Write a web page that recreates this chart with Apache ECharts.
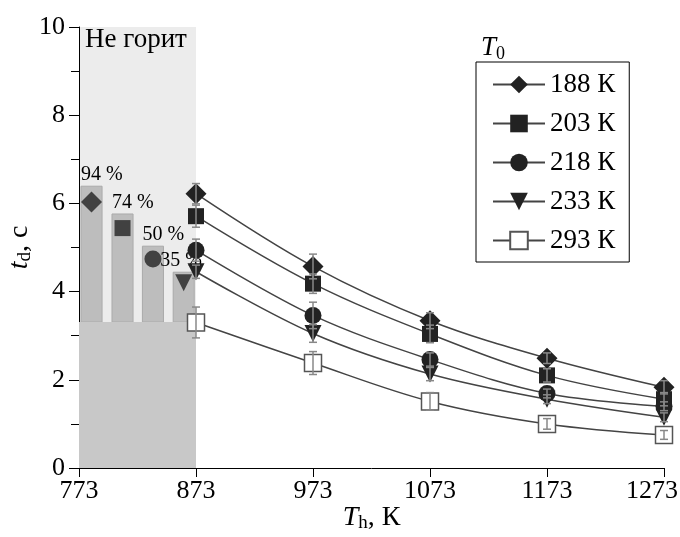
<!DOCTYPE html>
<html>
<head>
<meta charset="utf-8">
<script src="https://cdn.jsdelivr.net/npm/echarts@6/dist/echarts.min.js"></script>
<style>
  html, body { margin: 0; padding: 0; background: #fff; }
  #chart { width: 680px; height: 537px; }
</style>
</head>
<body>
<div id="chart"></div>
<script>
// heating temperatures, K
var tempsH = [873, 973, 1073, 1173, 1273];
var xTicks = [773, 873, 973, 1073, 1173, 1273];
// ignition delay t_d, s, for each initial temperature T0
var t188 = [6.22, 4.57, 3.34, 2.49, 1.83];
var t203 = [5.71, 4.18, 3.04, 2.10, 1.56];
var t218 = [4.94, 3.46, 2.46, 1.69, 1.40];
var t233 = [4.45, 3.05, 2.13, 1.56, 1.15];
var t293 = [3.30, 2.38, 1.51, 1.00, 0.75];
// error bar half-widths
var e188 = [0.23, 0.28, 0.18, 0.12, 0.15];
var e203 = [0.25, 0.22, 0.20, 0.15, 0.15];
var e218 = [0.25, 0.30, 0.15, 0.10, 0.10];
var e233 = [0.15, 0.20, 0.15, 0.10, 0.10];
var e293 = [0.35, 0.26, 0.20, 0.12, 0.10];
// "no ignition" zone: probability bars
var noFireZone = [773, 873];
var fireX = [783.7, 810.2, 836.2, 862.5];
var fireTop = [6.39, 5.76, 5.03, 4.44];
var firePct = ['94 %', '74 %', '50 %', '35 %'];
var fireMarkY = [6.03, 5.44, 4.74, 4.20];
var bandTop = 3.31;

var X0 = 773;
var FONT = 'Liberation Serif';
var names = ['188 К', '203 К', '218 К', '233 К', '293 К'];
var values = [t188, t203, t218, t233, t293];
var errs = [e188, e203, e218, e233, e293];
var symbols = ['diamond', 'rect', 'circle', 'triangle', 'rect'];
var sizes = [21, 16, 17, 17, 17];
var rotates = [0, 0, 0, 180, 0];
var barW = 18;
var labelDx = [0, 0, 0, -13];

function sx(v) { return v - X0; }

var myChart = echarts.init(document.getElementById('chart'));

var series = [];

// light zone + caption
series.push({
  type: 'custom', silent: true, z: 0,
  data: [[sx(noFireZone[0]), sx(noFireZone[1])]],
  renderItem: function (params, api) {
    var p0 = api.coord([api.value(0), 10]);
    var p1 = api.coord([api.value(1), 0]);
    return {
      type: 'group',
      children: [
        { type: 'rect', shape: { x: p0[0], y: p0[1], width: p1[0] - p0[0], height: p1[1] - p0[1] }, style: { fill: '#ececec' } },
        { type: 'text', x: p0[0] + 6, y: p0[1] - 1, style: { text: 'Не горит', fontFamily: FONT, fontSize: 27, fill: '#000' } }
      ]
    };
  }
});

// grey bars with percentages
series.push({
  type: 'custom', silent: true, z: 1,
  data: fireX.map(function (x, i) { return [sx(x), fireTop[i], i]; }),
  renderItem: function (params, api) {
    var i = api.value(2);
    var a = api.coord([api.value(0) - barW / 2, api.value(1)]);
    var b = api.coord([api.value(0) + barW / 2, bandTop]);
    return {
      type: 'group',
      children: [
        { type: 'rect', shape: { x: a[0], y: a[1], width: b[0] - a[0], height: b[1] - a[1] }, style: { fill: '#bdbdbd', stroke: '#aaaaaa', lineWidth: 1 } },
        { type: 'text', x: a[0] + labelDx[i], y: a[1] - 1, style: { text: firePct[i], fontFamily: FONT, fontSize: 20, fill: '#000', verticalAlign: 'bottom' } }
      ]
    };
  }
});

// darker band at the bottom of the zone
series.push({
  type: 'custom', silent: true, z: 2,
  data: [[sx(noFireZone[0]), sx(noFireZone[1])]],
  renderItem: function (params, api) {
    var p0 = api.coord([api.value(0), bandTop]);
    var p1 = api.coord([api.value(1), 0]);
    return { type: 'rect', shape: { x: p0[0], y: p0[1], width: p1[0] - p0[0], height: p1[1] - p0[1] }, style: { fill: '#c8c8c8' } };
  }
});

// error bars
var errData = [];
values.forEach(function (arr, k) {
  arr.forEach(function (v, j) { errData.push([sx(tempsH[j]), v, errs[k][j]]); });
});
series.push({
  type: 'custom', silent: true, z: 4,
  data: errData,
  renderItem: function (params, api) {
    var top = api.coord([api.value(0), api.value(1) + api.value(2)]);
    var bot = api.coord([api.value(0), api.value(1) - api.value(2)]);
    var st = { stroke: '#888', lineWidth: 1.5 };
    return {
      type: 'group',
      children: [
        { type: 'line', shape: { x1: top[0], y1: top[1], x2: bot[0], y2: bot[1] }, style: st },
        { type: 'line', shape: { x1: top[0] - 4, y1: top[1], x2: top[0] + 4, y2: top[1] }, style: st },
        { type: 'line', shape: { x1: bot[0] - 4, y1: bot[1], x2: bot[0] + 4, y2: bot[1] }, style: st }
      ]
    };
  }
});

names.forEach(function (name, k) {
  var open = k === 4;
  var itemStyle = open
    ? { color: '#fff', borderColor: '#555', borderWidth: 1.5 }
    : { color: '#222' };
  series.push({
    name: name,
    type: 'line',
    z: 3,
    smooth: 0.35,
    symbol: symbols[k],
    symbolSize: sizes[k],
    symbolRotate: rotates[k],
    showAllSymbol: true,
    lineStyle: { color: '#444', width: 1.5 },
    itemStyle: itemStyle,
    data: tempsH.map(function (t, j) { return [sx(t), values[k][j]]; })
  });
  if (k < 4) {
    series.push({
      type: 'scatter',
      z: 3,
      symbol: symbols[k],
      symbolSize: sizes[k],
      symbolRotate: rotates[k],
      itemStyle: itemStyle,
      data: [[sx(fireX[k]), fireMarkY[k]]]
    });
  }
});

var option = {
  animation: false,
  title: {
    text: '{i|T}{s|0}',
    left: 476, top: 28,
    textStyle: {
      fontWeight: 'normal',
      rich: {
        i: { fontFamily: FONT, fontStyle: 'italic', fontWeight: 'normal', fontSize: 27, color: '#000' },
        s: { fontFamily: FONT, fontWeight: 'normal', fontSize: 18, color: '#000', padding: [12, 0, 0, 0] }
      }
    }
  },
  legend: {
    data: names,
    orient: 'vertical',
    left: 476, top: 62,
    padding: [9, 14, 8, 16],
    itemWidth: 52, itemHeight: 22, itemGap: 12,
    borderColor: '#000', borderWidth: 1,
    textStyle: { fontFamily: FONT, fontSize: 27, color: '#000' }
  },
  grid: { left: 79, right: 16, top: 27, bottom: 69, outerBoundsMode: 'none', containLabel: false },
  xAxis: {
    type: 'value',
    min: 0, max: sx(xTicks[xTicks.length - 1]), interval: 100,
    name: '{i|T}{s|h}{n|, К}',
    nameLocation: 'middle', nameGap: 34, nameMoveOverlap: false,
    nameTextStyle: {
      rich: {
        i: { fontFamily: FONT, fontStyle: 'italic', fontSize: 28, color: '#000' },
        s: { fontFamily: FONT, fontSize: 19, color: '#000', padding: [12, 0, 0, 0] },
        n: { fontFamily: FONT, fontSize: 28, color: '#000' }
      }
    },
    axisLine: { lineStyle: { color: '#000', width: 1 } },
    axisTick: { inside: false, length: 9, lineStyle: { color: '#000' } },
    axisLabel: {
      margin: 10,
      fontFamily: FONT, fontSize: 26, color: '#000',
      formatter: function (v) {
        var t = v + X0;
        return t === xTicks[xTicks.length - 1] ? '{r|' + t + '}' : String(t);
      },
      rich: { r: { fontFamily: FONT, fontSize: 26, color: '#000', padding: [0, 24, 0, 0] } }
    },
    splitLine: { show: false }
  },
  yAxis: {
    type: 'value',
    min: 0, max: 10, interval: 2,
    name: '{i|t}{s|d}{n|, с}',
    nameLocation: 'middle', nameGap: 44, nameMoveOverlap: false,
    nameTextStyle: {
      rich: {
        i: { fontFamily: FONT, fontStyle: 'italic', fontSize: 28, color: '#000' },
        s: { fontFamily: FONT, fontSize: 19, color: '#000', padding: [12, 0, 0, 0] },
        n: { fontFamily: FONT, fontSize: 28, color: '#000' }
      }
    },
    axisLine: { show: true, lineStyle: { color: '#000', width: 1 } },
    axisTick: { inside: false, length: 10, lineStyle: { color: '#000' } },
    minorTick: { show: true, splitNumber: 2, length: 8, lineStyle: { color: '#000' } },
    axisLabel: { margin: 14, fontFamily: FONT, fontSize: 26, color: '#000' },
    splitLine: { show: false }
  },
  series: series
};
myChart.setOption(option);
</script>
</body>
</html>
